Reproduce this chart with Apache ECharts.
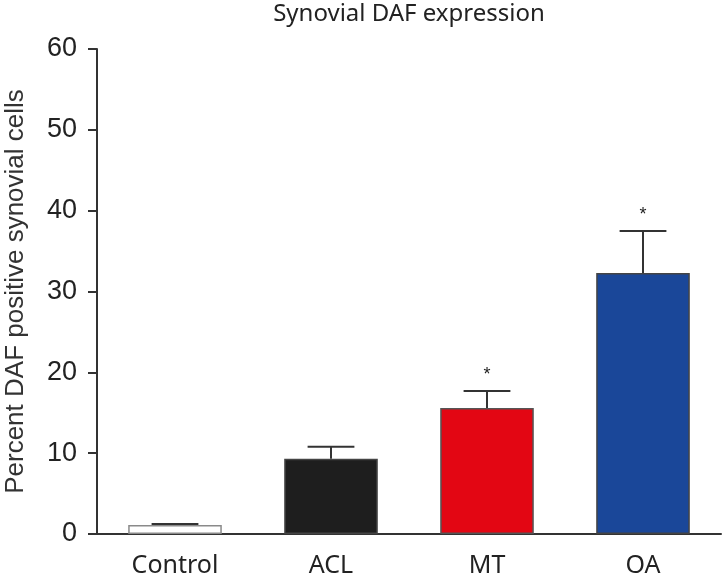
<!DOCTYPE html>
<html>
<head>
<meta charset="utf-8">
<script src="https://cdn.jsdelivr.net/npm/echarts@6/dist/echarts.min.js"></script>
<style>html,body{margin:0;padding:0;background:#fff;}#c{width:726px;height:580px;}</style>
</head>
<body>
<div id="c"></div>
<script>
var categories = ['Control', 'ACL', 'MT', 'OA'];
var means = [1.1, 9.3, 15.6, 32.3];
var errUpper = [1.25, 10.8, 17.7, 37.5];
var sig = ['', '', '*', '*'];
var yTicks = [0, 10, 20, 30, 40, 50, 60];

var barColors = ['#ffffff', '#1e1e1e', '#e30613', '#1a4799'];
var barBorders = ['#8a8a8a', '#444444', '#555555', '#444444'];

var chart = echarts.init(document.getElementById('c'));
chart.setOption({
  animation: false,
  backgroundColor: '#fff',
  title: {
    text: 'Synovial DAF expression',
    left: 409, top: 2, padding: 0, textAlign: 'center',
    textStyle: {fontFamily: 'Noto Sans', fontSize: 24, fontWeight: 'normal', color: '#222'}
  },
  grid: {left: 97, right: 5, top: 49, bottom: 46, containLabel: false, outerBoundsMode: 'none'},
  xAxis: {
    type: 'category',
    data: categories,
    axisLine: {lineStyle: {color: '#333', width: 2}},
    axisTick: {alignWithLabel: true, length: 9, lineStyle: {color: '#333', width: 2}},
    axisLabel: {fontFamily: 'Noto Sans', fontSize: 25, color: '#222', margin: 19}
  },
  yAxis: {
    type: 'value',
    min: yTicks[0], max: yTicks[yTicks.length - 1], interval: 10,
    name: 'Percent DAF positive synovial cells',
    nameLocation: 'middle', nameGap: 68,
    nameTextStyle: {fontFamily: 'Liberation Sans', fontSize: 26, color: '#333'},
    axisLine: {show: true, lineStyle: {color: '#333', width: 2}},
    axisTick: {show: true, length: 9, lineStyle: {color: '#333', width: 2}},
    axisLabel: {fontFamily: 'Liberation Sans', fontSize: 27, color: '#222', margin: 20},
    splitLine: {show: false}
  },
  series: [
    {
      type: 'bar',
      barWidth: '60%',
      data: means.map(function (v, i) {
        return {value: v, itemStyle: {color: barColors[i], borderColor: barBorders[i], borderWidth: 1.5}};
      }),
      z: 2
    },
    {
      type: 'custom',
      z: 3,
      data: means.map(function (v, i) { return [i, v, errUpper[i]]; }),
      renderItem: function (params, api) {
        var i = api.value(0);
        var p0 = api.coord([i, api.value(1)]);
        var p1 = api.coord([i, api.value(2)]);
        var band = api.size([1, 0])[0];
        var hw = band * 0.15;
        var style = {stroke: '#333', lineWidth: 2};
        var children = [
          {type: 'line', shape: {x1: p0[0], y1: p0[1], x2: p1[0], y2: p1[1]}, style: style},
          {type: 'line', shape: {x1: p1[0] - hw, y1: p1[1], x2: p1[0] + hw, y2: p1[1]}, style: style}
        ];
        if (sig[i]) {
          children.push({type: 'text', style: {text: sig[i], x: p1[0], y: p1[1] - 16, textAlign: 'center', textVerticalAlign: 'middle', fontSize: 18, fontFamily: 'Liberation Sans', fill: '#222'}});
        }
        return {type: 'group', children: children};
      }
    }
  ]
});
</script>
</body>
</html>
